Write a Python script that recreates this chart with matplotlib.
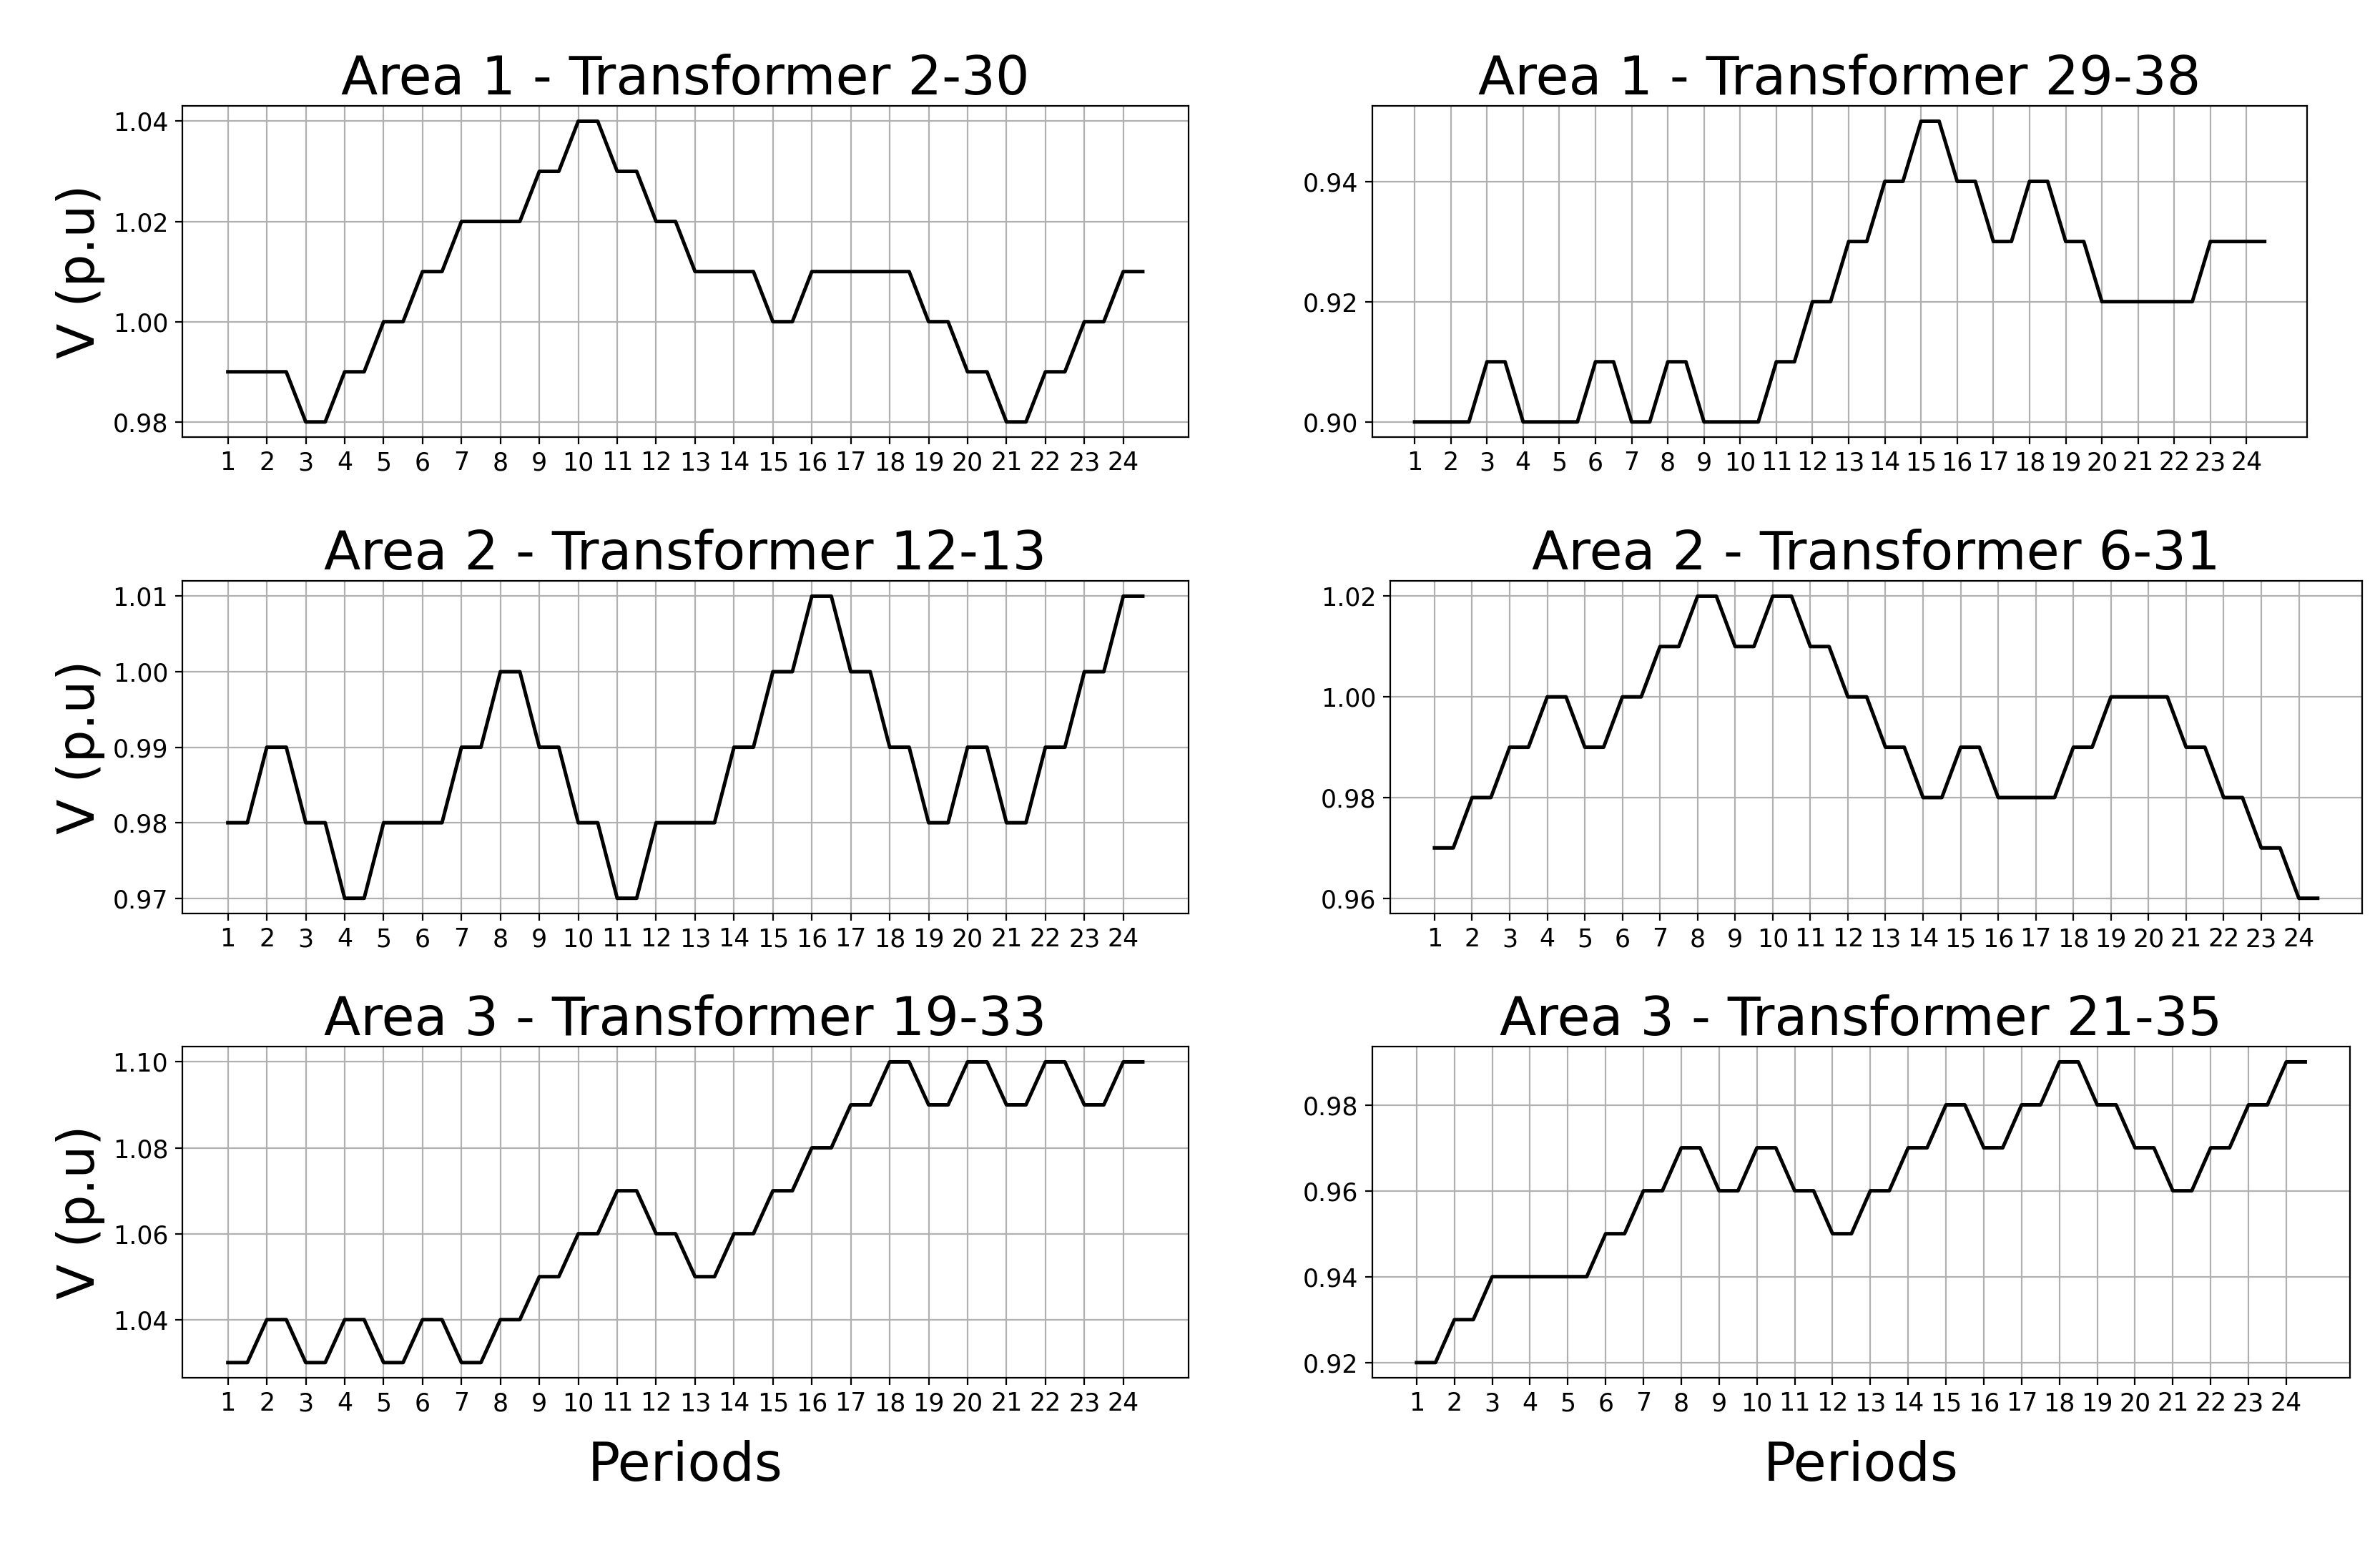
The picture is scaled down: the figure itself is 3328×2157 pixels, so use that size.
import numpy as np
import matplotlib
matplotlib.use('Agg')
import matplotlib.pyplot as plt

periods = list(range(1, 25))

titles = [
    'Area 1 - Transformer 2-30', 'Area 1 - Transformer 29-38',
    'Area 2 - Transformer 12-13', 'Area 2 - Transformer 6-31',
    'Area 3 - Transformer 19-33', 'Area 3 - Transformer 21-35',
]

t_2_30 = [0.99, 0.99, 0.98, 0.99, 1.00, 1.01, 1.02, 1.02, 1.03, 1.04, 1.03, 1.02,
          1.01, 1.01, 1.00, 1.01, 1.01, 1.01, 1.00, 0.99, 0.98, 0.99, 1.00, 1.01]
t_29_38 = [0.90, 0.90, 0.91, 0.90, 0.90, 0.91, 0.90, 0.91, 0.90, 0.90, 0.91, 0.92,
           0.93, 0.94, 0.95, 0.94, 0.93, 0.94, 0.93, 0.92, 0.92, 0.92, 0.93, 0.93]
t_12_13 = [0.98, 0.99, 0.98, 0.97, 0.98, 0.98, 0.99, 1.00, 0.99, 0.98, 0.97, 0.98,
           0.98, 0.99, 1.00, 1.01, 1.00, 0.99, 0.98, 0.99, 0.98, 0.99, 1.00, 1.01]
t_6_31 = [0.97, 0.98, 0.99, 1.00, 0.99, 1.00, 1.01, 1.02, 1.01, 1.02, 1.01, 1.00,
          0.99, 0.98, 0.99, 0.98, 0.98, 0.99, 1.00, 1.00, 0.99, 0.98, 0.97, 0.96]
t_19_33 = [1.03, 1.04, 1.03, 1.04, 1.03, 1.04, 1.03, 1.04, 1.05, 1.06, 1.07, 1.06,
           1.05, 1.06, 1.07, 1.08, 1.09, 1.10, 1.09, 1.10, 1.09, 1.10, 1.09, 1.10]
t_21_35 = [0.92, 0.93, 0.94, 0.94, 0.94, 0.95, 0.96, 0.97, 0.96, 0.97, 0.96, 0.95,
           0.96, 0.97, 0.98, 0.97, 0.98, 0.99, 0.98, 0.97, 0.96, 0.97, 0.98, 0.99]

series = [t_2_30, t_29_38, t_12_13, t_6_31, t_19_33, t_21_35]
yticks = [
    [0.98, 1.00, 1.02, 1.04], [0.90, 0.92, 0.94],
    [0.97, 0.98, 0.99, 1.00, 1.01], [0.96, 0.98, 1.00, 1.02],
    [1.04, 1.06, 1.08, 1.10], [0.92, 0.94, 0.96, 0.98],
]

W, H = 1568, 1017
boxes = [
    (120, 70, 783, 288), (904, 70, 1520, 288),
    (120, 383, 783, 602), (916, 383, 1556, 602),
    (120, 690, 783, 908), (904, 690, 1548, 908),
]

fig = plt.figure(figsize=(16.64, 10.785), dpi=200)

for i, (vals, title, yt, (x0, y0, x1, y1)) in enumerate(zip(series, titles, yticks, boxes)):
    ax = fig.add_axes([x0 / W, 1 - y1 / H, (x1 - x0) / W, (y1 - y0) / H])
    # each period holds its value for half a period, then ramps to the next
    x = np.repeat(periods, 2) + np.tile([0.0, 0.5], len(periods))
    y = np.repeat(vals, 2)
    ax.plot(x, y, color='black', linewidth=1.8)
    ax.set_xticks(periods)
    ax.set_yticks(yt)
    ax.yaxis.set_major_formatter(matplotlib.ticker.FormatStrFormatter('%.2f'))
    ax.tick_params(labelsize=12.5)
    ax.grid(True)
    ax.set_title(title, fontsize=27, pad=4)
    if i % 2 == 0:
        ax.set_ylabel('V (p.u)', fontsize=26)
    if i >= 4:
        ax.set_xlabel('Periods', fontsize=27, labelpad=12)

fig.savefig('out.png', dpi=200)
